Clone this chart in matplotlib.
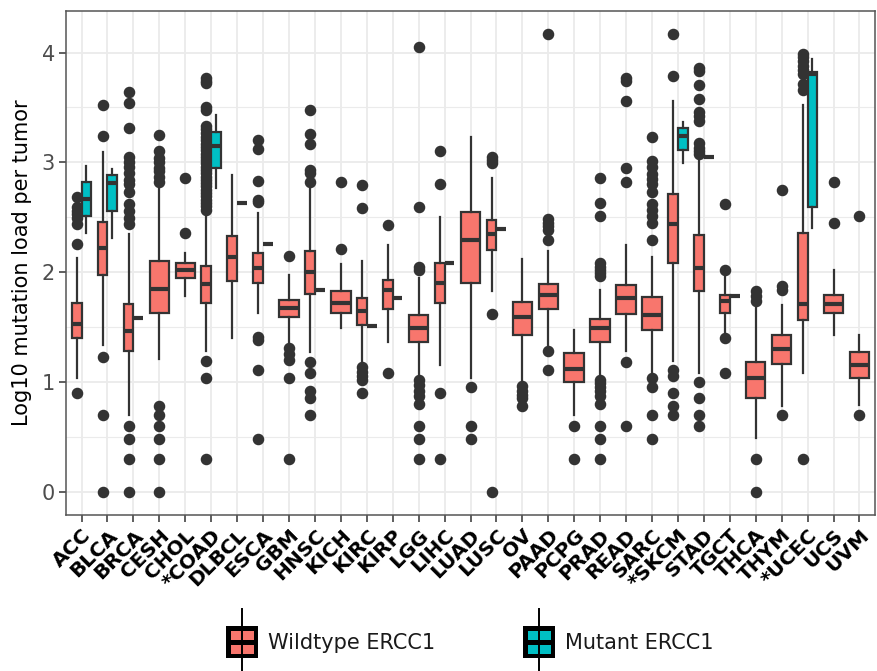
import matplotlib
matplotlib.use("Agg")
import matplotlib.pyplot as plt
from matplotlib.patches import Rectangle
from matplotlib.lines import Line2D
import numpy as np

categories = ["ACC", "BLCA", "BRCA", "CESH", "CHOL", "*COAD", "DLBCL", "ESCA", "GBM", "HNSC",
              "KICH", "KIRC", "KIRP", "LGG", "LIHC", "LUAD", "LUSC", "OV", "PAAD", "PCPG",
              "PRAD", "READ", "SARC", "*SKCM", "STAD", "TGCT", "THCA", "THYM", "*UCEC", "UCS", "UVM"]

# Wildtype ERCC1 box statistics
wt_med = [1.53, 2.22, 1.46, 1.85, 2.02, 1.89, 2.14, 2.04, 1.67, 2.00,
          1.72, 1.65, 1.84, 1.49, 1.90, 2.29, 2.35, 1.59, 1.79, 1.12,
          1.49, 1.76, 1.61, 2.44, 2.04, 1.74, 1.04, 1.30, 1.71, 1.71, 1.15]
wt_q1 = [1.40, 1.97, 1.28, 1.63, 1.95, 1.72, 1.92, 1.90, 1.59, 1.80,
         1.63, 1.52, 1.66, 1.36, 1.72, 1.90, 2.20, 1.43, 1.66, 1.00,
         1.36, 1.62, 1.47, 2.08, 1.83, 1.63, 0.85, 1.16, 1.56, 1.63, 1.04]
wt_q3 = [1.72, 2.46, 1.71, 2.10, 2.08, 2.06, 2.33, 2.17, 1.75, 2.19,
         1.83, 1.76, 1.93, 1.61, 2.08, 2.55, 2.47, 1.73, 1.89, 1.26,
         1.57, 1.88, 1.77, 2.71, 2.34, 1.79, 1.18, 1.43, 2.36, 1.79, 1.27]
wt_lo = [1.04, 1.34, 0.70, 1.21, 1.78, 1.28, 1.40, 1.63, 1.36, 1.27,
         1.49, 1.17, 1.36, 1.03, 1.15, 1.04, 1.83, 0.99, 1.34, 0.70,
         1.04, 1.28, 1.04, 1.19, 1.08, 1.45, 0.49, 0.78, 1.08, 1.43, 0.79]
wt_hi = [2.13, 3.09, 2.35, 2.76, 2.17, 2.54, 2.88, 2.54, 1.97, 2.76,
         2.07, 2.10, 2.25, 1.95, 2.50, 3.23, 2.86, 2.12, 2.19, 1.47,
         1.84, 2.25, 2.14, 3.56, 3.07, 1.98, 1.81, 1.70, 3.52, 2.02, 1.43]
wt_out = [
    [0.90, 2.26, 2.44, 2.49, 2.53, 2.56, 2.59, 2.68],
    [0.0, 0.70, 1.23, 3.24, 3.52],
    [0.0, 0.30, 0.48, 0.60, 2.44, 2.49, 2.56, 2.62, 2.73, 2.80, 2.84, 2.90, 2.96, 3.00, 3.05, 3.31, 3.54, 3.64],
    [0.0, 0.30, 0.48, 0.60, 0.70, 0.78, 2.82, 2.87, 2.92, 2.95, 3.00, 3.04, 3.10, 3.25],
    [2.36, 2.86],
    [0.30, 1.04, 1.19, 2.57, 2.60, 2.63, 2.66, 2.69, 2.72, 2.75, 2.78, 2.81, 2.84, 2.87, 2.90,
     2.93, 2.96, 2.99, 3.02, 3.05, 3.08, 3.11, 3.14, 3.17, 3.20, 3.23, 3.27, 3.30, 3.33,
     3.48, 3.50, 3.72, 3.74, 3.77],
    [],
    [0.48, 1.11, 1.38, 1.41, 2.64, 2.66, 2.83, 3.12, 3.20],
    [0.30, 1.04, 1.20, 1.25, 1.31, 2.15],
    [0.70, 0.85, 0.92, 1.08, 1.18, 2.82, 2.90, 2.93, 3.17, 3.26, 3.48],
    [2.21, 2.82],
    [0.90, 1.02, 1.05, 1.09, 1.14, 2.58, 2.79],
    [1.08, 2.43],
    [0.30, 0.48, 0.60, 0.80, 0.87, 0.92, 0.97, 1.02, 2.02, 2.05, 2.59, 4.05],
    [0.30, 0.90, 2.80, 3.10],
    [0.48, 0.60, 0.95],
    [0.0, 1.62, 2.99, 3.02, 3.05],
    [0.78, 0.85, 0.88, 0.92, 0.96],
    [1.11, 1.28, 2.29, 2.38, 2.42, 2.45, 2.48, 4.17],
    [0.30, 0.60],
    [0.30, 0.48, 0.60, 0.80, 0.87, 0.92, 0.95, 0.99, 1.02, 1.96, 1.99, 2.02, 2.05, 2.08, 2.51, 2.63, 2.86],
    [0.60, 1.18, 2.82, 2.95, 3.56, 3.74, 3.77],
    [0.48, 0.70, 0.95, 1.04, 2.29, 2.45, 2.51, 2.57, 2.62, 2.73, 2.80, 2.85, 2.89, 2.96, 3.01, 3.23],
    [0.70, 0.78, 0.90, 1.05, 1.11, 3.79, 4.17],
    [0.60, 0.70, 0.85, 1.00, 3.08, 3.10, 3.13, 3.18, 3.38, 3.42, 3.46, 3.58, 3.70, 3.83, 3.86],
    [1.08, 1.40, 2.02, 2.62],
    [0.0, 0.30, 1.74, 1.78, 1.83],
    [0.70, 1.84, 1.87, 2.75],
    [0.30, 3.66, 3.71, 3.80, 3.84, 3.88, 3.92, 3.96, 3.99],
    [2.45, 2.82],
    [0.70, 2.51],
]

# Mutant ERCC1 box statistics (None = no mutant samples)
mut_med = [2.67, 2.81, 1.58, None, None, 3.15, 2.63, 2.26, None, 1.84,
           None, 1.51, 1.76, None, 2.08, None, 2.39, None, None, None,
           None, None, None, 3.24, 3.05, 1.78, None, None, 3.80, None, None]
mut_q1 = [2.51, 2.56, 1.58, None, None, 2.95, 2.63, 2.26, None, 1.84,
          None, 1.51, 1.76, None, 2.08, None, 2.39, None, None, None,
          None, None, None, 3.11, 3.05, 1.78, None, None, 2.59, None, None]
mut_q3 = [2.82, 2.88, 1.58, None, None, 3.28, 2.63, 2.26, None, 1.84,
          None, 1.51, 1.76, None, 2.08, None, 2.39, None, None, None,
          None, None, None, 3.31, 3.05, 1.78, None, None, 3.82, None, None]
mut_lo = [2.36, 2.31, 1.58, None, None, 2.77, 2.63, 2.26, None, 1.84,
          None, 1.51, 1.76, None, 2.08, None, 2.39, None, None, None,
          None, None, None, 2.99, 3.05, 1.78, None, None, 2.40, None, None]
mut_hi = [2.97, 2.94, 1.58, None, None, 3.43, 2.63, 2.26, None, 1.84,
          None, 1.51, 1.76, None, 2.08, None, 2.39, None, None, None,
          None, None, None, 3.37, 3.05, 1.78, None, None, 3.94, None, None]

wt_color = "#F8766D"
mut_color = "#00BFC4"
edge = "#333333"

W, H = 877, 671
fig = plt.figure(figsize=(W / 100, H / 100), dpi=100)
ax = fig.add_axes([66 / W, 1 - 514.6 / H, (875 - 66) / W, (514.6 - 11) / H])

x = np.arange(len(categories))
full_w = 0.75

def draw(stats, positions, widths, color):
    ax.bxp(stats, positions=positions, widths=widths, patch_artist=True, showcaps=False,
           boxprops=dict(facecolor=color, edgecolor=edge, linewidth=1.6),
           medianprops=dict(color=edge, linewidth=3.0, solid_capstyle="butt"),
           whiskerprops=dict(color=edge, linewidth=1.6),
           flierprops=dict(marker="o", markerfacecolor=edge, markeredgecolor=edge,
                           markersize=7.3, linestyle="none"),
           manage_ticks=False, zorder=3)

wt_stats, wt_pos, wt_w = [], [], []
mu_stats, mu_pos, mu_w = [], [], []
for i in range(len(categories)):
    has_mut = mut_med[i] is not None
    wt_stats.append(dict(med=wt_med[i], q1=wt_q1[i], q3=wt_q3[i], whislo=wt_lo[i],
                         whishi=wt_hi[i], fliers=wt_out[i]))
    if has_mut:
        wt_pos.append(x[i] - full_w / 4)
        wt_w.append(full_w / 2)
        mu_stats.append(dict(med=mut_med[i], q1=mut_q1[i], q3=mut_q3[i], whislo=mut_lo[i],
                             whishi=mut_hi[i], fliers=[]))
        mu_pos.append(x[i] + full_w / 4)
        mu_w.append(full_w / 2)
    else:
        wt_pos.append(x[i])
        wt_w.append(full_w)

draw(wt_stats, wt_pos, wt_w, wt_color)
draw(mu_stats, mu_pos, mu_w, mut_color)

ax.set_xlim(-0.6, len(categories) - 1 + 0.6)
ax.set_ylim(-0.2085, 4.378)
ax.set_xticks(x)
ax.set_xticklabels(categories, rotation=45, ha="right", va="top", rotation_mode="anchor",
                   fontsize=14.5, fontweight="bold", color="black")
ax.set_yticks([0, 1, 2, 3, 4])
ax.set_yticklabels(["0", "1", "2", "3", "4"], fontsize=15, color="#4D4D4D")
ax.set_yticks([0.5, 1.5, 2.5, 3.5], minor=True)
ax.tick_params(axis="both", which="major", length=5, width=1.1, color="#333333", pad=3)
ax.tick_params(axis="y", which="minor", length=0)
ax.grid(True, which="major", color="#EBEBEB", linewidth=1.3)
ax.grid(True, which="minor", axis="y", color="#EBEBEB", linewidth=0.8)
ax.set_axisbelow(True)
for s in ax.spines.values():
    s.set_color("#555555")
    s.set_linewidth(1.1)
ax.set_ylabel("Log10 mutation load per tumor", fontsize=15, color="black", labelpad=7)

# legend drawn manually at the bottom
def fx(px):
    return px / W

def fy(py):
    return 1 - py / H

def legend_key(x0, color, label):
    cx = x0 + 16
    fig.add_artist(Line2D([fx(cx), fx(cx)], [fy(609), fy(671)], color="black",
                          linewidth=1.4, transform=fig.transFigure))
    fig.add_artist(Rectangle((fx(x0), fy(658)), fx(32), 32 / H, facecolor="black",
                             edgecolor="none", transform=fig.transFigure))
    fig.add_artist(Rectangle((fx(x0 + 4.5), fy(640)), fx(23), 9.5 / H, facecolor=color,
                             edgecolor="none", transform=fig.transFigure))
    fig.add_artist(Rectangle((fx(x0 + 4.5), fy(653.5)), fx(23), 8.5 / H, facecolor=color,
                             edgecolor="none", transform=fig.transFigure))
    fig.text(fx(x0 + 42), fy(643), label, fontsize=15, color="#1A1A1A",
             ha="left", va="center")

legend_key(226, wt_color, "Wildtype ERCC1")
legend_key(523, mut_color, "Mutant ERCC1")

fig.savefig("out.png", dpi=100, facecolor="white")
